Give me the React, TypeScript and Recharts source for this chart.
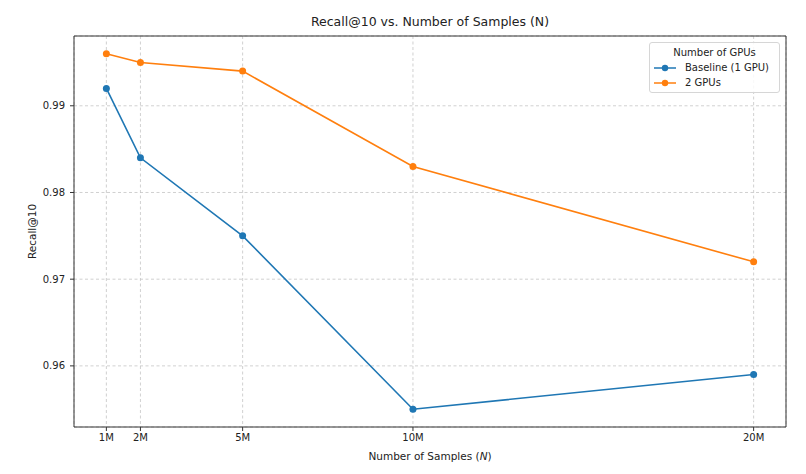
import React from 'react';
import { LineChart, Line, XAxis, YAxis, CartesianGrid, ReferenceLine } from 'recharts';

const samplesM = [1, 2, 5, 10, 20];
const baseline1Gpu = [0.992, 0.984, 0.975, 0.955, 0.959];
const twoGpus = [0.996, 0.995, 0.994, 0.983, 0.972];
const xTicks = [1, 2, 5, 10, 20];
const yTicks = [0.96, 0.97, 0.98, 0.99];
const xDomain: [number, number] = [0.05, 20.95];
const yDomain: [number, number] = [0.95295, 0.99805];
const legendTitle = 'Number of GPUs';
const seriesNames = ['Baseline (1 GPU)', '2 GPUs'];

const data = samplesM.map((n, i) => ({ n, base: baseline1Gpu[i], two: twoGpus[i] }));

const FONT = '"DejaVu Sans", sans-serif';
const BLUE = '#1f77b4';
const ORANGE = '#ff7f0e';
const AXIS = '#333333';

const LegendBox = () => (
  <div
    style={{
      position: 'absolute',
      left: 649,
      top: 42,
      width: 131,
      height: 51,
      border: '1px solid #d6d6d6',
      borderRadius: 3,
      background: 'rgba(255,255,255,0.85)',
      fontFamily: FONT,
      fontSize: 10,
      color: '#222',
      boxSizing: 'border-box',
      padding: '3px 0 0 0',
      textAlign: 'left',
    }}
  >
    <div style={{ textAlign: 'center', lineHeight: '14px' }}>{legendTitle}</div>
    {[
      { c: BLUE, t: seriesNames[0] },
      { c: ORANGE, t: seriesNames[1] },
    ].map((e) => (
      <div key={e.t} style={{ display: 'flex', alignItems: 'center', height: 15, paddingLeft: 3 }}>
        <svg width={24} height={10} style={{ marginRight: 8 }}>
          <line x1={1} y1={5} x2={23} y2={5} stroke={e.c} strokeWidth={1.5} />
          <circle cx={12} cy={5} r={3.2} fill={e.c} />
        </svg>
        <span>{e.t}</span>
      </div>
    ))}
  </div>
);

const XLabel = (props: any) => {
  const vb = props.viewBox;
  return (
    <text
      x={vb.x + vb.width / 2}
      y={460}
      textAnchor="middle"
      fontFamily={FONT}
      fontSize={10.5}
      fill="#222"
    >
      Number of Samples (<tspan fontStyle="italic">N</tspan>)
    </text>
  );
};

const YLabel = (props: any) => {
  const vb = props.viewBox;
  const cy = vb.y + vb.height / 2;
  return (
    <text
      x={36}
      y={cy}
      transform={`rotate(-90, 36, ${cy})`}
      textAnchor="middle"
      fontFamily={FONT}
      fontSize={10.5}
      fill="#222"
    >
      Recall@10
    </text>
  );
};

export default function App() {
  return (
    <div style={{ position: 'absolute', left: 0, top: 0, width: 806, height: 474, background: '#fff' }}>
      <div
        style={{
          position: 'absolute',
          left: 74,
          width: 712,
          top: 14,
          textAlign: 'center',
          fontFamily: FONT,
          fontSize: 12.5,
          color: '#222',
        }}
      >
        Recall@10 vs. Number of Samples (N)
      </div>
      <LineChart width={806} height={474} data={data} margin={{ top: 36, right: 20, left: 0, bottom: 0 }}>
        <CartesianGrid stroke="#c4c4c4" strokeDasharray="3 2.5" strokeWidth={0.8} />
        <XAxis
          type="number"
          dataKey="n"
          domain={xDomain}
          ticks={xTicks}
          allowDataOverflow
          height={47}
          tickFormatter={(v: number) => `${v}M`}
          tick={{ fontFamily: FONT, fontSize: 10, fill: '#222' }}
          tickSize={4}
          tickMargin={3}
          stroke={AXIS}
          label={<XLabel />}
        />
        <YAxis
          type="number"
          domain={yDomain}
          ticks={yTicks}
          allowDataOverflow
          width={74}
          tickFormatter={(v: number) => v.toFixed(2)}
          tick={{ fontFamily: FONT, fontSize: 10, fill: '#222' }}
          tickSize={4}
          tickMargin={5}
          stroke={AXIS}
          label={<YLabel />}
        />
        <ReferenceLine y={yDomain[1]} stroke={AXIS} strokeWidth={1} />
        <ReferenceLine x={xDomain[1]} stroke={AXIS} strokeWidth={1} />
        <Line
          type="linear"
          dataKey="base"
          name={seriesNames[0]}
          stroke={BLUE}
          strokeWidth={1.6}
          dot={{ r: 3.5, fill: BLUE, stroke: BLUE, strokeWidth: 0 }}
          activeDot={false}
          isAnimationActive={false}
        />
        <Line
          type="linear"
          dataKey="two"
          name={seriesNames[1]}
          stroke={ORANGE}
          strokeWidth={1.6}
          dot={{ r: 3.5, fill: ORANGE, stroke: ORANGE, strokeWidth: 0 }}
          activeDot={false}
          isAnimationActive={false}
        />
      </LineChart>
      <LegendBox />
    </div>
  );
}
